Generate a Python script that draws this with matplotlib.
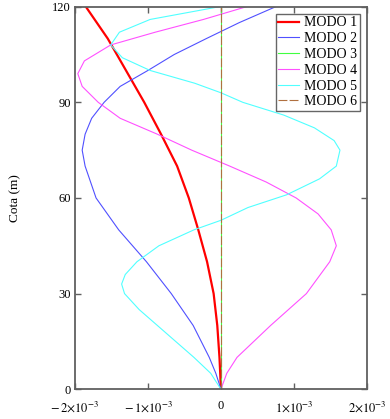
import numpy as np
import matplotlib.pyplot as plt

plt.rcParams['font.family'] = ['Liberation Serif', 'DejaVu Serif']
plt.rcParams['mathtext.fontset'] = 'stix'

# Mode shapes (x in units of 1e-3, height in m)
cota_1 = [0, 10, 20, 30, 40, 50, 60, 70, 80, 90, 100, 110, 120]
modo_1 = [0, -0.02, -0.05, -0.10, -0.19, -0.31, -0.44, -0.60, -0.82, -1.05, -1.30, -1.55, -1.85]

cota_2 = [0, 5, 10, 20, 30, 40, 50, 60, 70, 75, 80, 85, 90, 95, 100, 105, 110, 115, 120]
modo_2 = [0, -0.07, -0.16, -0.38, -0.68, -1.02, -1.40, -1.71, -1.86, -1.90, -1.86, -1.77, -1.60, -1.38, -1.00, -0.64, -0.20, 0.25, 0.75]

cota_3 = [0, 120]
modo_3 = [0, 0]

cota_4 = [0, 5, 10, 20, 30, 40, 45, 50, 55, 60, 65, 70, 75, 80, 85, 90, 95, 99, 103, 108, 112, 116, 120]
modo_4 = [0, 0.08, 0.22, 0.68, 1.17, 1.49, 1.58, 1.51, 1.33, 1.03, 0.62, 0.12, -0.40, -0.87, -1.38, -1.68, -1.90, -1.96, -1.87, -1.51, -0.90, -0.24, 0.35]

cota_5 = [0, 5, 10, 15, 20, 25, 30, 33, 36, 40, 45, 50, 53, 57, 61, 66, 70, 75, 78, 82, 86, 90, 93, 96, 100, 104, 108, 112, 116, 120]
modo_5 = [0, -0.14, -0.37, -0.62, -0.87, -1.12, -1.32, -1.36, -1.31, -1.15, -0.85, -0.37, 0.0, 0.37, 0.90, 1.35, 1.58, 1.63, 1.55, 1.28, 0.86, 0.30, 0.0, -0.36, -0.97, -1.35, -1.51, -1.39, -0.97, -0.02]

cota_6 = [0, 120]
modo_6 = [0, 0]

fig = plt.figure(figsize=(3.9, 4.19), dpi=100)
ax = fig.add_axes([0.192, 0.071, 0.749, 0.913])

esc = 1e-3
ax.plot(np.array(modo_1) * esc, cota_1, color='#ff0000', lw=1.6, label='MODO 1')
ax.plot(np.array(modo_2) * esc, cota_2, color='#5050ff', lw=0.8, label='MODO 2')
ax.plot(np.array(modo_3) * esc, cota_3, color='#40ff40', lw=0.8, label='MODO 3')
ax.plot(np.array(modo_4) * esc, cota_4, color='#ff50ff', lw=0.8, label='MODO 4')
ax.plot(np.array(modo_5) * esc, cota_5, color='#50ffff', lw=0.8, label='MODO 5')
ax.plot(np.array(modo_6) * esc, cota_6, color='#b07040', lw=0.8, dashes=(8, 2), label='MODO 6')

ax.set_xlim(-2e-3, 2e-3)
ax.set_ylim(0, 120)
ax.set_xticks([-2e-3, -1e-3, 0, 1e-3, 2e-3])
ax.set_xticklabels([r'$-\,2{\times}10^{-3}$', r'$-\,1{\times}10^{-3}$', '0',
                    r'$1{\times}10^{-3}$', r'$2{\times}10^{-3}$'])
ax.set_yticks([0, 30, 60, 90, 120])
ax.tick_params(direction='in', length=4, width=1, color='#606060', labelsize=9,
               top=True, right=True, pad=3)
ax.tick_params(axis='x', pad=8)
for s in ax.spines.values():
    s.set_color('#606060')
    s.set_linewidth(1.3)

ax.set_ylabel('Cota (m)', fontsize=9.5, labelpad=22)

leg = ax.legend(loc='upper right', fontsize=10, frameon=True, fancybox=False,
                edgecolor='#404040', handlelength=1.5, handletextpad=0.35,
                labelspacing=0.2, borderpad=0.2, borderaxespad=0.5)
leg.get_frame().set_linewidth(1.0)

fig.savefig('out.png', dpi=100)
